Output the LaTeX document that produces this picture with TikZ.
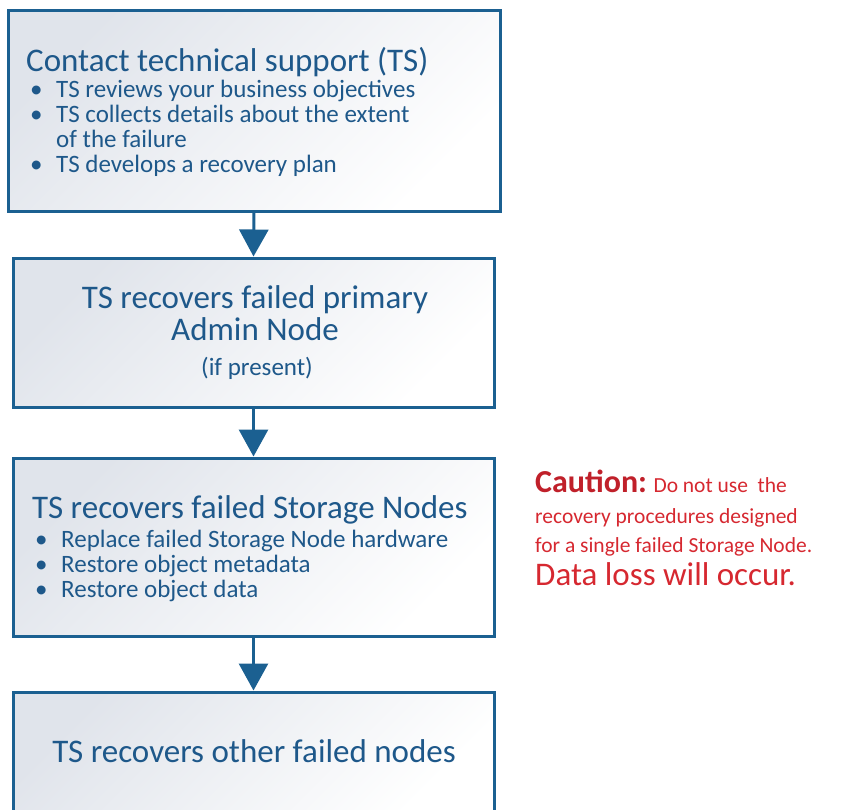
\documentclass[tikz,border=0pt]{standalone}
\usepackage{fontspec}
\setmainfont{Carlito}
\usetikzlibrary{arrows.meta,positioning}
\definecolor{tsblue}{RGB}{27,96,145}
\definecolor{tstext}{RGB}{30,88,138}
\definecolor{boxgrey}{RGB}{224,228,235}
\definecolor{cautionred}{RGB}{214,40,48}
\definecolor{cautiondark}{RGB}{192,32,42}
\tikzset{
  stepbox/.style = {draw=tsblue, line width=3pt, top color=boxgrey, bottom color=white, shading angle=45, minimum width=481pt, inner sep=0pt},
  boxtitle/.style = {inner sep=0pt, text=tstext, font=\fontsize{33}{32}\selectfont},
  boxlist/.style = {inner sep=0pt, text=tstext, font=\fontsize{25}{25}\selectfont},
  flowarrow/.style = {draw=tsblue, line width=3pt, -{Triangle[width=29pt,length=27pt]}},
  cautiontext/.style = {inner sep=0pt, text=cautionred, font=\fontsize{21.5}{29}\selectfont}
}
\newcommand{\tsbullet}{\makebox[26pt][l]{\textbullet}}

\begin{document}
\begin{tikzpicture}[x=1pt,y=-1pt]
	\useasboundingbox (0,0) rectangle (859,809);
	% boxes
	\node [stepbox, minimum width=492pt, minimum height=201pt] (contact) at (254,110.5) {};
	\node [stepbox, minimum height=149pt] (admin) at (253.5,332.5) {};
	\node [stepbox, minimum height=178pt] (storage) at (253.5,547) {};
	\node [stepbox, minimum height=120pt] (other) at (253.5,752) {};
	% texts
	\node [boxtitle, anchor=base west] (contacttitle) at (26,71) {Contact technical support (TS)};
	\node [boxlist, anchor=base west] (contactlist) at (30,97) {\begin{tabular}[t]{@{}l@{}}
		\tsbullet TS reviews your business objectives\\
		\tsbullet TS collects details about the extent\\
		\hspace*{26pt}of the failure\\
		\tsbullet TS develops a recovery plan
	\end{tabular}};
	\node [boxtitle, anchor=base] (admintitle) at (255,308) {\begin{tabular}[t]{@{}c@{}}
		TS recovers failed primary\\
		Admin Node
	\end{tabular}};
	\node [boxlist, anchor=base] (adminnote) at (257,375) {(if present)};
	\node [boxtitle, anchor=base west] (storagetitle) at (32,518) {TS recovers failed Storage Nodes};
	\node [boxlist, anchor=base west] (storagelist) at (35,547) {\begin{tabular}[t]{@{}l@{}}
		\tsbullet Replace failed Storage Node hardware\\
		\tsbullet Restore object metadata\\
		\tsbullet Restore object data
	\end{tabular}};
	\node [boxtitle, anchor=base] (othertitle) at (254,762) {TS recovers other failed nodes};
	% caution
	\node [cautiontext, anchor=base west] (caution) at (535,492) {\begin{tabular}[t]{@{}l@{}}
		{\fontsize{32}{29}\selectfont\bfseries\color{cautiondark}Caution:} Do not use\ \ the\\[2pt]
		recovery procedures designed\\
		for a single failed Storage Node.\\[2pt]
		{\fontsize{33}{29}\selectfont Data loss will occur.}
	\end{tabular}};
	% arrows
	\draw [flowarrow] (contact.south) -- (admin.north);
	\draw [flowarrow] (admin.south) -- (storage.north);
	\draw [flowarrow] (storage.south) -- (other.north);
\end{tikzpicture}
\end{document}
